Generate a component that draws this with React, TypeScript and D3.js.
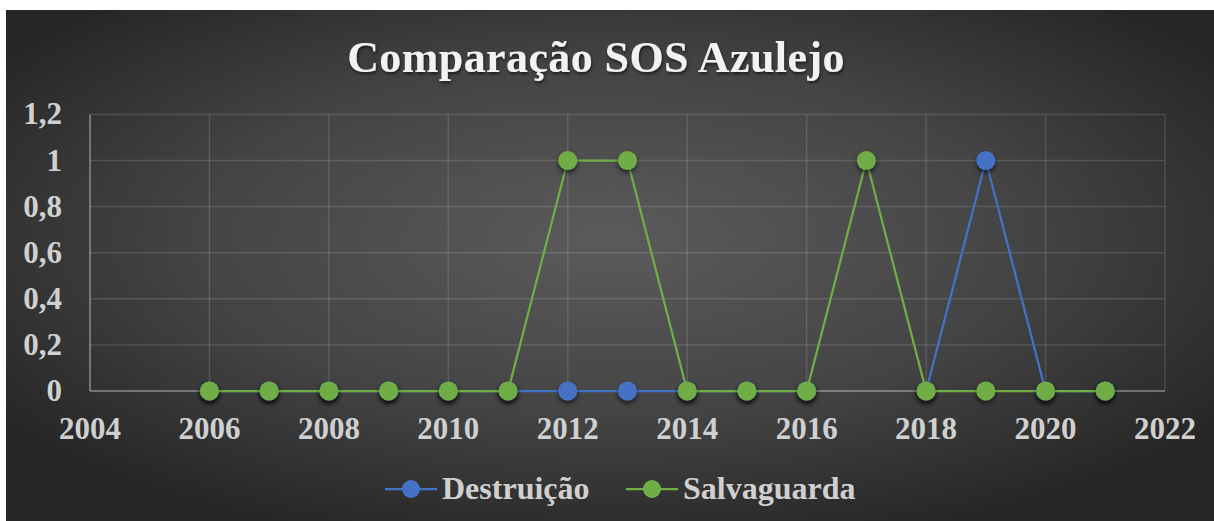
import React, { useEffect, useRef } from 'react';
import * as d3 from 'd3';

// Chart data (null = no value that year)
const years = [2006, 2007, 2008, 2009, 2010, 2011, 2012, 2013, 2014, 2015, 2016, 2017, 2018, 2019, 2020, 2021];
const destruicao: (number | null)[] = [0, 0, 0, 0, 0, 0, 0, 0, 0, 0, 0, null, 0, 1, 0, 0];
const salvaguarda: (number | null)[] = [0, 0, 0, 0, 0, 0, 1, 1, 0, 0, 0, 1, 0, 0, 0, 0];
const xTicks = [2004, 2006, 2008, 2010, 2012, 2014, 2016, 2018, 2020, 2022];
const yTicks = [0, 0.2, 0.4, 0.6, 0.8, 1, 1.2];
const seriesNames = ['Destruição', 'Salvaguarda'];
const seriesColors = ['#4472C4', '#70AD47'];

const App = () => {
    const svgRef = useRef<SVGSVGElement>(null);

    useEffect(() => {
        const width = 1214;
        const height = 521;
        const font = '"Liberation Serif", "Times New Roman", serif';

        const svg = d3.select(svgRef.current);
        svg.selectAll('*').remove();
        svg.attr('width', width).attr('height', height);

        const defs = svg.append('defs');
        const grad = defs.append('radialGradient')
            .attr('id', 'bg')
            .attr('cx', '50%').attr('cy', '45%').attr('r', '62%');
        grad.append('stop').attr('offset', '0%').attr('stop-color', '#5b5b5b');
        grad.append('stop').attr('offset', '55%').attr('stop-color', '#444');
        grad.append('stop').attr('offset', '100%').attr('stop-color', '#262626');

        const shadow = defs.append('filter').attr('id', 'shadow')
            .attr('x', '-50%').attr('y', '-50%').attr('width', '200%').attr('height', '200%');
        shadow.append('feDropShadow')
            .attr('dx', 0).attr('dy', 3).attr('stdDeviation', 2.5)
            .attr('flood-color', '#000').attr('flood-opacity', 0.6);

        const textShadow = defs.append('filter').attr('id', 'tshadow')
            .attr('x', '-10%').attr('y', '-30%').attr('width', '120%').attr('height', '160%');
        textShadow.append('feDropShadow')
            .attr('dx', 1).attr('dy', 2).attr('stdDeviation', 1.5)
            .attr('flood-color', '#000').attr('flood-opacity', 0.6);

        // Page white, chart panel with dark radial background
        svg.append('rect').attr('width', width).attr('height', height).attr('fill', '#fff');
        svg.append('rect')
            .attr('x', 6).attr('y', 10)
            .attr('width', width - 6).attr('height', height - 10)
            .attr('fill', 'url(#bg)');

        // Scales
        const x = d3.scaleLinear().domain([2004, 2022]).range([90, 1165]);
        const y = d3.scaleLinear().domain([0, 1.2]).range([391, 114.4]);

        // Gridlines
        svg.append('g').selectAll('line.h')
            .data(yTicks)
            .enter().append('line')
            .attr('x1', x(2004)).attr('x2', x(2022))
            .attr('y1', d => y(d)).attr('y2', d => y(d))
            .attr('stroke', 'rgba(255,255,255,0.13)')
            .attr('stroke-width', 1.5);
        svg.append('g').selectAll('line.v')
            .data(xTicks)
            .enter().append('line')
            .attr('x1', d => x(d)).attr('x2', d => x(d))
            .attr('y1', y(0)).attr('y2', y(1.2))
            .attr('stroke', 'rgba(255,255,255,0.13)')
            .attr('stroke-width', 1.5);

        // Axis lines (left and bottom)
        svg.append('line')
            .attr('x1', x(2004)).attr('x2', x(2004))
            .attr('y1', y(0)).attr('y2', y(1.2))
            .attr('stroke', 'rgba(255,255,255,0.33)').attr('stroke-width', 1.5);
        svg.append('line')
            .attr('x1', x(2004)).attr('x2', x(2022))
            .attr('y1', y(0)).attr('y2', y(0))
            .attr('stroke', 'rgba(255,255,255,0.33)').attr('stroke-width', 1.5);

        // Tick labels
        const fmt = (d: number) => String(+d.toFixed(1)).replace('.', ',');
        svg.append('g').selectAll('text')
            .data(yTicks)
            .enter().append('text')
            .attr('x', 62).attr('y', d => y(d) + 10)
            .attr('text-anchor', 'end')
            .attr('font-family', font).attr('font-weight', 'bold')
            .attr('font-size', 31).attr('fill', '#d0d0d0')
            .text(fmt);
        svg.append('g').selectAll('text')
            .data(xTicks)
            .enter().append('text')
            .attr('x', d => x(d)).attr('y', 439)
            .attr('text-anchor', 'middle')
            .attr('font-family', font).attr('font-weight', 'bold')
            .attr('font-size', 31).attr('fill', '#d0d0d0')
            .text(d => d);

        // Series lines and markers
        const seriesData = [destruicao, salvaguarda];
        const line = d3.line<number | null>()
            .defined(d => d !== null)
            .x((d, i) => x(years[i]))
            .y(d => y(d as number));

        seriesData.forEach((values, s) => {
            const g = svg.append('g');
            g.append('path')
                .datum(values)
                .attr('d', line)
                .attr('fill', 'none')
                .attr('stroke', seriesColors[s])
                .attr('stroke-width', 2.25);
            const pts = values
                .map((v, i) => ({ year: years[i], v }))
                .filter(p => p.v !== null);
            g.selectAll('circle')
                .data(pts)
                .enter().append('circle')
                .attr('cx', d => x(d.year))
                .attr('cy', d => y(d.v as number))
                .attr('r', 9.5)
                .attr('fill', seriesColors[s])
                .attr('filter', 'url(#shadow)');
        });

        // Title
        svg.append('text')
            .attr('x', 596).attr('y', 72)
            .attr('text-anchor', 'middle')
            .attr('font-family', font).attr('font-weight', 'bold')
            .attr('font-size', 44).attr('letter-spacing', 0.4)
            .attr('fill', '#f2f2f2')
            .attr('filter', 'url(#tshadow)')
            .text('Comparação SOS Azulejo');

        // Legend
        const legendX = [385, 626];
        seriesNames.forEach((name, s) => {
            const g = svg.append('g').attr('transform', `translate(${legendX[s]},489)`);
            g.append('line')
                .attr('x1', 0).attr('x2', 52)
                .attr('stroke', seriesColors[s]).attr('stroke-width', 2.25);
            g.append('circle')
                .attr('cx', 26).attr('r', 9)
                .attr('fill', seriesColors[s]);
            g.append('text')
                .attr('x', 57).attr('y', 10)
                .attr('font-family', font).attr('font-weight', 'bold')
                .attr('font-size', 32).attr('fill', '#d0d0d0')
                .text(name);
        });
    }, []);

    return (
        <div style={{ position: 'absolute', left: 0, top: 0 }}>
            <svg ref={svgRef} style={{ display: 'block' }}></svg>
        </div>
    );
};

export default App;
